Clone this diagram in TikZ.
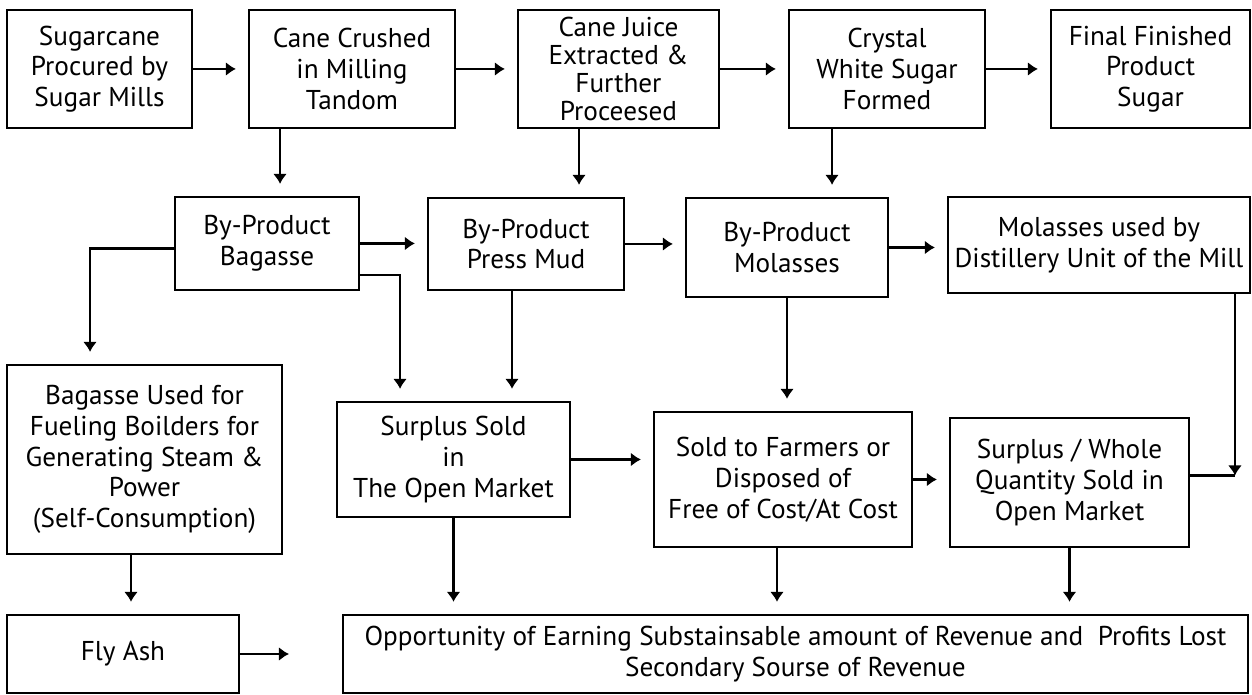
\documentclass[tikz,border=0pt]{standalone}
\usepackage{fontspec}
\setmainfont{PT Sans}
\usetikzlibrary{calc,arrows,arrows.meta}

\tikzset{
    blok/.style={draw, line width=1.3pt, align=center, inner sep=1pt, font=\fontsize{15.5}{17.5}\selectfont},
    pijl/.style={-{Latex[length=0.2cm, width=0.28cm]}, line width=1.4pt, shorten >=0.24cm},
}

\begin{document}
\begin{tikzpicture}[x=0.02cm, y=-0.02cm]

        \fill[white] (0,0) rectangle (1252,695);
        \useasboundingbox (0,0) rectangle (1252,695);

        \node[blok, minimum width=3.70cm, minimum height=2.36cm] (cane) at (99.5,69) {Sugarcane\\ Procured by\\ Sugar Mills};
        \node[blok, minimum width=4.12cm, minimum height=2.36cm] (crush) at (352,69) {Cane Crushed\\ in Milling\\ Tandom};
        \node[blok, minimum width=4.02cm, minimum height=2.36cm, font=\fontsize{15.5}{16}\selectfont] (juice) at (618.5,69) {Cane Juice\\ Extracted \&\\ Further\\ Proceesed};
        \node[blok, minimum width=3.92cm, minimum height=2.36cm] (crystal) at (887,69) {Crystal\\ White Sugar\\ Formed};
        \node[blok, minimum width=3.98cm, minimum height=2.36cm] (final) at (1150.5,69) {Final Finished\\ Product\\ Sugar};

        \node[blok, minimum width=3.68cm, minimum height=1.86cm] (bagasse) at (267,243.5) {By-Product\\ Bagasse};
        \node[blok, minimum width=3.92cm, minimum height=1.84cm] (mud) at (526,244) {By-Product\\ Press Mud};
        \node[blok, minimum width=4.04cm, minimum height=1.98cm] (molasses) at (787,247.5) {By-Product\\ Molasses};
        \node[blok, minimum width=6.04cm, minimum height=1.92cm] (distill) at (1099,245) {Molasses used by\\ Distillery Unit of the Mill};

        \node[blok, minimum width=5.50cm, minimum height=3.78cm] (fuel) at (144.5,459.5) {Bagasse Used for\\ Fueling Boilders for\\ Generating Steam \&\\ Power\\ (Self-Consumption)};
        \node[blok, minimum width=4.66cm, minimum height=2.30cm] (surplus) at (453.5,459.5) {Surplus Sold\\ in\\ The Open Market};
        \node[blok, minimum width=5.16cm, minimum height=2.70cm] (farmers) at (783,479.5) {Sold to Farmers or\\ Disposed of\\ Free of Cost/At Cost};
        \node[blok, minimum width=4.78cm, minimum height=2.58cm] (whole) at (1069.5,482.5) {Surplus / Whole\\ Quantity Sold in\\ Open Market};

        \node[blok, minimum width=4.64cm, minimum height=1.56cm] (flyash) at (123,654) {Fly Ash};
        \node[blok, minimum width=18.10cm, minimum height=1.56cm] (opp) at (795.5,654) {Opportunity of Earning Substainsable amount of Revenue and~ Profits Lost\\ Secondary Sourse of Revenue};

        \coordinate (d1) at ([xshift=-1.44cm]crush.south);
        \coordinate (d2) at ([xshift=-0.79cm]juice.south);
        \coordinate (d3) at ([xshift=-1.10cm]crystal.south);
        \coordinate (d4) at ([xshift=-0.28cm]mud.south);
        \coordinate (d5) at ([xshift=2.72cm]distill.south);
        \coordinate (d6) at ([xshift=-0.27cm]fuel.south);
        \coordinate (hoek) at ([yshift=0.14cm]whole.east -| d5);

        \draw[pijl] (cane) -- (crush);
        \draw[pijl] (crush) -- (juice);
        \draw[pijl] (juice) -- (crystal);
        \draw[pijl] (crystal) -- (final);

        \draw[pijl] (d1) -- (d1 |- bagasse.north);
        \draw[pijl] (d2) -- (d2 |- mud.north);
        \draw[pijl] (d3) -- (d3 |- molasses.north);

        \draw[pijl] (bagasse) -- (bagasse -| mud.west);
        \draw[pijl] (mud) -- (mud -| molasses.west);
        \draw[pijl] (molasses) -- (molasses -| distill.west);

        \draw[pijl] ([yshift=-0.1cm]bagasse.west) -| ([xshift=-1.09cm]fuel.north);
        \draw[pijl] ([yshift=-0.63cm]bagasse.east) -| ([xshift=-1.07cm]surplus.north);
        \draw[pijl] (d4) -- (d4 |- surplus.north);
        \draw[pijl] (molasses.south) -- (molasses.south |- farmers.north);
        \draw[pijl, shorten >=0pt] (d5) -- (hoek);
        \draw[line width=1.4pt] ([yshift=0.14cm]whole.east) -- (hoek);

        \draw[pijl] (surplus) -- (surplus -| farmers.west);
        \draw[pijl] (farmers) -- (farmers -| whole.west);

        \draw[pijl] (d6) -- (d6 |- flyash.north);
        \draw[pijl] (surplus.south) -- (surplus.south |- opp.north);
        \draw[pijl] ([xshift=-0.12cm]farmers.south) -- ([xshift=-0.12cm]farmers.south |- opp.north);
        \draw[pijl] (whole.south) -- (whole.south |- opp.north);
        \draw[pijl, shorten >=1.06cm] (flyash) -- (opp);

\end{tikzpicture}
\end{document}
